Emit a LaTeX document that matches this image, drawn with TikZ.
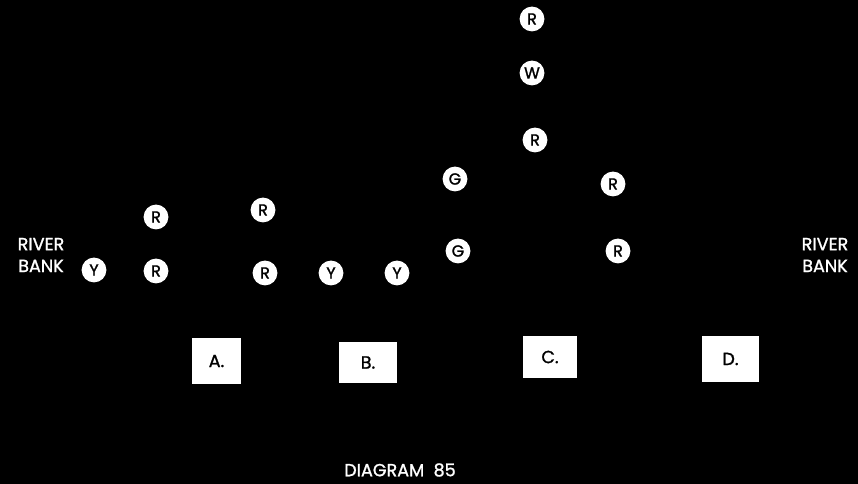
\documentclass[tikz,border=0pt]{standalone}
\usepackage{fontspec}
\setmainfont{Poppins}
\newfontfamily\medfont{Poppins}[FakeBold=1.2]
\tikzset{
  buoy/.style={circle, fill=white, text=black, inner sep=0pt, minimum size=0.62cm, font=\medfont\fontsize{11.5}{11.5}\selectfont},
  pier/.style={fill=white, text=black, inner sep=0pt, font=\medfont\fontsize{12.5}{12.5}\selectfont},
  banktext/.style={text=white, align=center, font=\medfont\fontsize{12.5}{15.5}\selectfont},
}
\begin{document}
\begin{tikzpicture}[x=0.025cm, y=-0.025cm]
    \fill[black] (0,0) rectangle (858,484);
    \useasboundingbox (0,0) rectangle (858,484);
    % river banks
    \node[banktext] (bankl) at (41,255) {RIVER\\BANK};
    \node[banktext] (bankr) at (825,255) {RIVER\\BANK};
    % markers
    \node[buoy] (y1) at (94,270) {Y};
    \node[buoy] (r1) at (156,217) {R};
    \node[buoy] (r2) at (156,271) {R};
    \node[buoy] (r3) at (263,210) {R};
    \node[buoy] (r4) at (265,273) {R};
    \node[buoy] (y2) at (331,273) {Y};
    \node[buoy] (y3) at (397,273) {Y};
    \node[buoy] (g1) at (455,179) {G};
    \node[buoy] (g2) at (458,251) {G};
    \node[buoy] (r5) at (532,19) {R};
    \node[buoy] (w1) at (532,73) {W};
    \node[buoy] (r6) at (535,140) {R};
    \node[buoy] (r7) at (613,184) {R};
    \node[buoy] (r8) at (618,251) {R};
    % piers
    \node[pier, minimum width=49*0.025cm, minimum height=46*0.025cm] (pa) at (216.5,361) {A.};
    \node[pier, minimum width=58*0.025cm, minimum height=41*0.025cm] (pb) at (368,362.5) {B.};
    \node[pier, minimum width=54*0.025cm, minimum height=42*0.025cm] (pc) at (550,357) {C.};
    \node[pier, minimum width=57*0.025cm, minimum height=46*0.025cm] (pd) at (730.5,359) {D.};
    \node[banktext] (title) at (400,470) {DIAGRAM\ \ 85};
\end{tikzpicture}
\end{document}
